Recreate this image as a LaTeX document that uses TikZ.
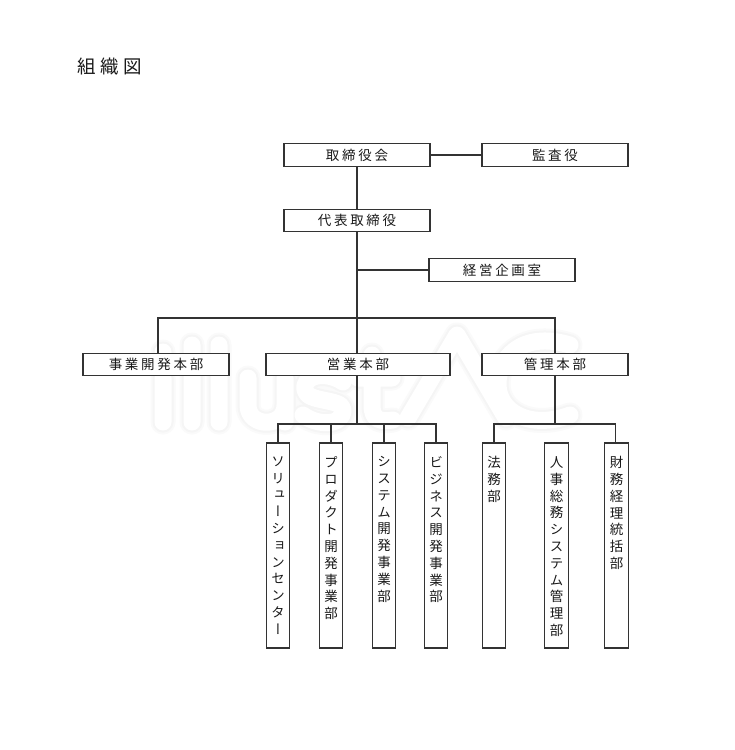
\documentclass[tikz,border=0pt]{standalone}
\usepackage{fontspec}
\setmainfont{Noto Sans CJK JP}
\newfontfamily\jpfont{Noto Sans CJK JP}
\newfontfamily\jpv[RawFeature=+vert]{Noto Sans CJK JP}
\tikzset{
  lw/.style={line width=1.45pt,draw=black!80},
  hbox/.style={lw,fill=white,inner sep=0pt,minimum height=22.5pt,minimum width=146pt,text=black!90,
    font=\jpfont\fontsize{13.5}{16}\selectfont\addfontfeature{LetterSpace=20}},
  vbox/.style={lw,fill=white,inner sep=0pt,minimum height=205pt,minimum width=23.5pt},
  vtext/.style={anchor=north,inner sep=0pt,align=center,text=black!90,
    font=\jpv\fontsize{13.5}{16.8}\selectfont},
  conn/.style={lw,line cap=rect},
  wmA/.style={draw=black!2,line width=25pt,line cap=round,line join=round},
  wmB/.style={draw=black!4,line width=21pt,line cap=round,line join=round},
  wmwhite/.style={draw=white,line width=17pt,line cap=round,line join=round},
  wm/.pic={
    \path[pic actions] (163,352)--(163,352.1) (163,378)--(163,422)
      (192,345)--(192,422) (219,345)--(219,422)
      (248,378)--(248,405) .. controls (248,428) and (285,428) .. (285,405) (285,378)--(285,422)
      (343,382) .. controls (325,370) and (302,376) .. (305,390) .. controls (307,403) and (343,398) .. (343,410) .. controls (343,426) and (318,426) .. (303,415)
      (372,355)--(372,405) .. controls (372,420) and (380,422) .. (393,420) (358,378)--(392,378)
      (408,418)--(457,335)--(506,418)
      (570,345) .. controls (520,330) and (498,360) .. (498,384) .. controls (498,412) and (530,430) .. (570,415);
  }
}
\begin{document}
\begin{tikzpicture}[x=1pt,y=-1pt]
\useasboundingbox (0,0) rectangle (734,750);
\fill[white] (0,0) rectangle (734,750);
\pic[wmA] {wm};
\pic[wmB] {wm};
\pic[wmwhite] {wm};
\node[anchor=west,inner sep=0pt,text=black!90,font=\jpfont\fontsize{18.5}{20}\selectfont\addfontfeature{LetterSpace=25}] (title) at (77,67) {組織図};
\node[hbox] (board) at (357,155) {取締役会};
\node[hbox] (audit) at (555,155) {監査役};
\node[hbox] (ceo) at (357,220.5) {代表取締役};
\node[hbox] (plan) at (502,270) {経営企画室};
\node[hbox] (biz) at (156,364.5) {事業開発本部};
\node[hbox,minimum width=184pt] (sales) at (358,364.5) {営業本部};
\node[hbox] (admin) at (555,364.5) {管理本部};
\node[vbox] (d1) at (278,545.5) {};
\node[vbox] (d2) at (331,545.5) {};
\node[vbox] (d3) at (384,545.5) {};
\node[vbox] (d4) at (436,545.5) {};
\node[vbox] (d5) at (494,545.5) {};
\node[vbox] (d6) at (556.5,545.5) {};
\node[vbox] (d7) at (616.5,545.5) {};
\node[vtext] (t1) at ([yshift=-14pt]d1.north) {ソ\\リ\\ュ\\ー\\シ\\ョ\\ン\\セ\\ン\\タ\\ー};
\node[vtext] (t2) at ([yshift=-14pt]d2.north) {プ\\ロ\\ダ\\ク\\ト\\開\\発\\事\\業\\部};
\node[vtext] (t3) at ([yshift=-14pt]d3.north) {シ\\ス\\テ\\ム\\開\\発\\事\\業\\部};
\node[vtext] (t4) at ([yshift=-14pt]d4.north) {ビ\\ジ\\ネ\\ス\\開\\発\\事\\業\\部};
\node[vtext] (t5) at ([yshift=-14pt]d5.north) {法\\務\\部};
\node[vtext] (t6) at ([yshift=-14pt]d6.north) {人\\事\\総\\務\\シ\\ス\\テ\\ム\\管\\理\\部};
\node[vtext] (t7) at ([yshift=-14pt]d7.north) {財\\務\\経\\理\\統\\括\\部};
\coordinate (busTop) at (357,318);
\coordinate (busL) at (357,424);
\coordinate (busR) at (555,424);
\draw[conn] (board) -- (audit);
\draw[conn] (board) -- (ceo);
\draw[conn] (ceo.south) -- (ceo.south |- sales.north);
\draw[conn] (ceo.south |- plan.west) -- (plan.west);
\draw[conn] ([xshift=2pt]biz.north) |- (busTop) -| (admin.north);
\draw[conn] (ceo.south |- sales.south) -- (busL);
\draw[conn] (admin.south) -- (busR);
\draw[conn] (d1.north) |- (busL) -| (d4.north);
\draw[conn] (d2.north) -- (d2.north |- busL);
\draw[conn] (d3.north) -- (d3.north |- busL);
\draw[conn] (d5.north) |- (busR) -| ([xshift=-1pt]d7.north);
\end{tikzpicture}
\end{document}
